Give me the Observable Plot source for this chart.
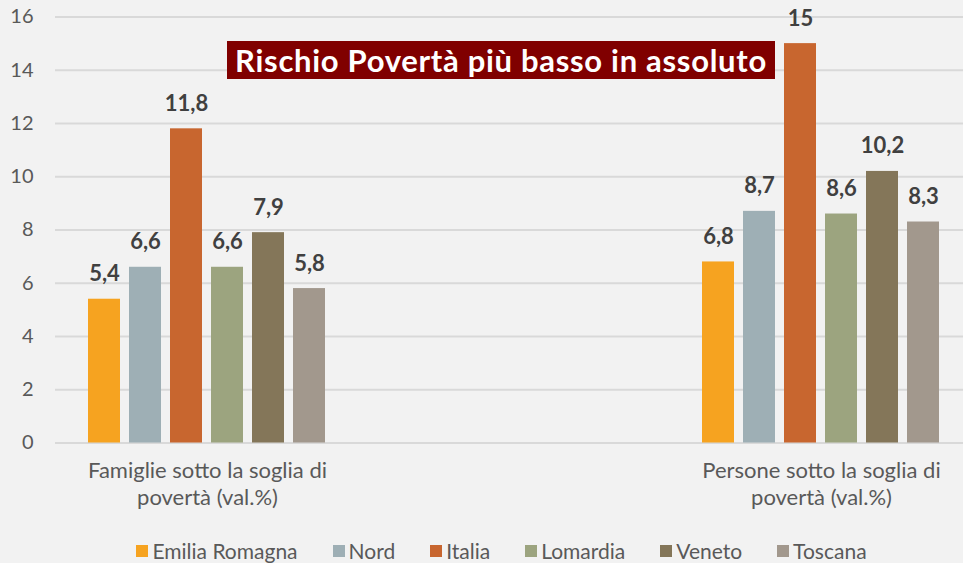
<!DOCTYPE html>
<html>
<head>
<meta charset="utf-8">
<script src="https://cdn.jsdelivr.net/npm/d3@7"></script>
<script src="https://cdn.jsdelivr.net/npm/@observablehq/plot@0.6"></script>
<style>
  html, body { margin: 0; padding: 0; background: #f2f2f2; }
  #chart { position: relative; width: 963px; height: 563px; background: #f2f2f2; overflow: hidden; font-family: Lato, "Open Sans", sans-serif; }
  #chart > .layer { position: absolute; left: 0; top: 0; }
  #title { position: absolute; left: 227px; top: 41px; width: 548px; height: 38px; line-height: 38px; background: #800000; color: #fff; font-weight: bold; font-size: 31px; letter-spacing: 0.7px; text-align: center; white-space: nowrap; }
  #legend { position: absolute; left: 40px; top: 540px; width: 923px; height: 22px; display: flex; justify-content: center; align-items: center; }
  #legend > div { display: flex; justify-content: center; align-items: center; font-family: Lato, sans-serif; font-size: 21px; line-height: 22px; color: #595959; margin: 0 !important; min-height: 0 !important; }
  #legend span { margin-right: 35px !important; display: inline-flex; align-items: center; }
  #legend span:last-child { margin-right: 0 !important; }
  #legend svg { margin-right: 4px !important; }
</style>
</head>
<body>
<div id="chart"></div>
<script>
const groups = ["Famiglie", "Persone"];
const groupLabels = ["Famiglie sotto la soglia di\npovertà (val.%)", "Persone sotto la soglia di\npovertà (val.%)"];
const series = ["Emilia Romagna", "Nord", "Italia", "Lomardia", "Veneto", "Toscana"];
const famiglie = [5.4, 6.6, 11.8, 6.6, 7.9, 5.8];
const persone = [6.8, 8.7, 15, 8.6, 10.2, 8.3];
const colors = ["#f6a320", "#9eafb5", "#c8662f", "#9ca47f", "#847659", "#a2988d"];
const yTicks = [0, 2, 4, 6, 8, 10, 12, 14, 16];
const titleText = "Rischio Povertà più basso in assoluto";

const values = {Famiglie: famiglie, Persone: persone};
const data = groups.flatMap(g => series.map((s, i) => ({group: g, series: s, value: values[g][i]})));
const fmt = v => String(v).replace(".", ",");

const W = 963, H = 525, MT = 16.5, MB = 82.5;
const common = {
  width: W, height: H, marginTop: MT, marginBottom: MB,
  style: {background: "transparent", fontFamily: "Lato, sans-serif", fontSize: "20px", color: "#595959", overflow: "visible"}
};

const axes = Plot.plot({
  ...common,
  marginLeft: 55, marginRight: 0,
  y: {domain: [0, 16]},
  marks: [
    Plot.gridY(yTicks, {stroke: "#d9d9d9", strokeOpacity: 1, strokeWidth: 2}),
    Plot.axisY(yTicks, {tickSize: 0, tickPadding: 22, label: null, fontSize: 20, fill: "#595959"})
  ]
});

const bars = Plot.plot({
  ...common,
  marginLeft: 76, marginRight: 11,
  fx: {domain: groups, paddingInner: 0.574, paddingOuter: 0, axis: null},
  x: {domain: series, paddingInner: 0.2157, paddingOuter: 0.294, axis: null},
  y: {domain: [0, 16], axis: null},
  color: {domain: series, range: colors},
  marks: [
    Plot.barY(data, {fx: "group", x: "series", y: "value", fill: "series"}),
    Plot.text(data, {fx: "group", x: "series", y: "value", text: d => fmt(d.value), dy: -25, fontWeight: "bold", fontSize: 22, fill: "#404040"}),
    Plot.text(groups, {fx: d => d, text: d => groupLabels[groups.indexOf(d)], frameAnchor: "bottom", lineAnchor: "top", dy: 15, lineHeight: 1.25, fontSize: 22, fill: "#595959"})
  ]
});

const chart = document.getElementById("chart");
axes.classList.add("layer");
bars.classList.add("layer");
chart.appendChild(axes);
chart.appendChild(bars);

const title = document.createElement("div");
title.id = "title";
title.textContent = titleText;
chart.appendChild(title);

const legendWrap = document.createElement("div");
legendWrap.id = "legend";
legendWrap.appendChild(Plot.legend({color: {domain: series, range: colors}, swatchWidth: 12, swatchHeight: 12}));
chart.appendChild(legendWrap);
</script>
</body>
</html>
